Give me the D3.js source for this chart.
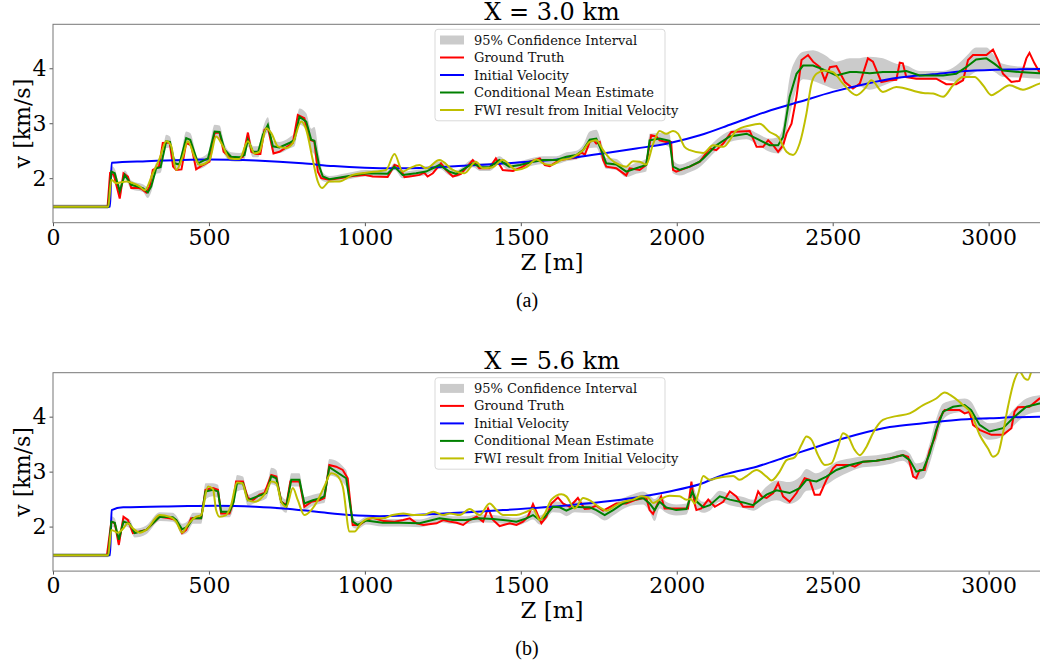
<!DOCTYPE html>
<html>
<head>
<meta charset="utf-8">
<script src="https://cdn.jsdelivr.net/npm/d3@7"></script>
<style>
  body { margin: 0; background: #fff; }
  svg { display: block; }
</style>
</head>
<body>
<script>
// depth ticks and velocity ticks
var zTicks = [0, 500, 1000, 1500, 2000, 2500, 3000];
var vTicks = [2, 3, 4];
var legendLabels = ['95% Confidence Interval', 'Ground Truth', 'Initial Velocity',
                    'Conditional Mean Estimate', 'FWI result from Initial Velocity'];

// ---- panel (a): X = 3.0 km, values are [z (m), v (km/s)] ----
var truthA = [[0,1.48],[175,1.48],[183,2.09],[195,2.06],[214,1.63],[226,2.09],[240,2.03],[251,1.82],[275,1.82],[285,1.8],[299,1.74],[310,1.85],[320,2.15],[340,2.21],[352,2.64],[374,2.65],[385,2.21],[395,2.15],[412,2.16],[427,2.64],[443,2.6],[459,2.16],[481,2.24],[502,2.3],[518,2.82],[534,2.83],[547,2.48],[566,2.39],[593,2.35],[609,2.39],[625,2.83],[636,2.48],[651,2.44],[665,2.44],[678,2.88],[689,2.92],[707,2.45],[726,2.48],[753,2.58],[769,2.64],[785,3.15],[806,3.09],[822,2.7],[838,2.67],[849,2.12],[860,2.0],[886,1.97],[918,2.0],[961,2.04],[999,2.06],[1025,2.03],[1073,2.02],[1095,2.24],[1111,2.21],[1127,2.02],[1153,2.04],[1175,2.06],[1190,2.1],[1201,2.03],[1218,2.09],[1244,2.27],[1260,2.15],[1282,2.03],[1308,2.08],[1346,2.33],[1367,2.18],[1399,2.18],[1420,2.36],[1442,2.15],[1475,2.13],[1507,2.21],[1529,2.3],[1561,2.36],[1577,2.24],[1593,2.22],[1625,2.33],[1657,2.36],[1678,2.37],[1694,2.48],[1705,2.42],[1721,2.66],[1732,2.7],[1742,2.63],[1753,2.66],[1764,2.33],[1774,2.21],[1806,2.18],[1838,2.05],[1849,2.18],[1881,2.15],[1902,2.24],[1918,2.78],[1934,2.76],[1945,2.69],[1966,2.66],[1982,2.66],[1988,2.15],[1998,2.12],[2042,2.21],[2074,2.3],[2106,2.54],[2127,2.51],[2149,2.63],[2175,2.84],[2234,2.86],[2256,2.57],[2277,2.57],[2293,2.69],[2309,2.6],[2325,2.48],[2341,2.6],[2352,2.81],[2368,2.99],[2384,3.48],[2400,4.15],[2421,4.24],[2437,4.12],[2459,4.02],[2475,3.78],[2491,4.02],[2512,4.04],[2539,3.75],[2565,3.63],[2587,3.72],[2613,4.18],[2629,4.12],[2656,3.75],[2683,3.78],[2704,3.79],[2715,4.1],[2725,4.09],[2736,3.84],[2768,3.81],[2832,3.81],[2864,3.71],[2896,3.71],[2918,3.78],[2934,4.15],[2950,4.24],[2993,4.24],[3014,4.34],[3030,4.15],[3046,3.9],[3073,3.75],[3099,3.77],[3121,4.18],[3131,4.28],[3147,4.09],[3163,3.93],[3200,3.95]];
var initA = [[0,1.48],[183,1.48],[188,2.28],[300,2.31],[500,2.34],[650,2.32],[800,2.27],[900,2.22],[1000,2.19],[1100,2.18],[1200,2.19],[1300,2.22],[1500,2.29],[1650,2.36],[1763,2.45],[1870,2.54],[1978,2.64],[2074,2.78],[2179,2.99],[2288,3.21],[2394,3.39],[2500,3.57],[2609,3.72],[2715,3.83],[2821,3.89],[2929,3.95],[3100,3.98],[3200,3.99]];
// conditional mean: [z, v, half-width of the 95% interval]
var meanA = [[0,1.48,.04],[177,1.48,.04],[187,2.12,.1],[198,2.09,.08],[214,1.76,.12],[230,2.06,.08],[251,1.88,.08],[288,1.82,.07],[304,1.74,.1],[315,1.85,.1],[331,2.18,.1],[345,2.2,.1],[363,2.67,.12],[375,2.66,.1],[390,2.27,.1],[405,2.25,.08],[427,2.73,.12],[440,2.7,.12],[465,2.27,.1],[497,2.36,.1],[518,2.85,.12],[534,2.84,.12],[550,2.52,.1],[571,2.39,.08],[598,2.38,.08],[614,2.42,.08],[625,2.7,.12],[641,2.48,.1],[658,2.48,.1],[673,2.79,.12],[689,2.97,.14],[705,2.58,.1],[726,2.56,.1],[758,2.64,.1],[774,2.7,.12],[790,3.12,.15],[812,3.03,.15],[828,2.7,.2],[838,2.68,.25],[854,2.21,.2],[865,2.03,.08],[886,1.98,.06],[940,2.03,.06],[1004,2.09,.06],[1073,2.08,.06],[1095,2.21,.06],[1121,2.06,.06],[1164,2.09,.06],[1196,2.12,.06],[1239,2.24,.07],[1271,2.12,.07],[1292,2.08,.06],[1346,2.27,.07],[1372,2.2,.07],[1399,2.2,.07],[1431,2.33,.07],[1463,2.21,.07],[1497,2.24,.07],[1539,2.3,.07],[1571,2.33,.07],[1614,2.33,.07],[1646,2.39,.08],[1678,2.42,.08],[1700,2.51,.1],[1721,2.7,.15],[1742,2.72,.16],[1758,2.51,.15],[1774,2.27,.1],[1806,2.25,.1],[1838,2.12,.1],[1870,2.18,.1],[1902,2.24,.12],[1913,2.69,.12],[1945,2.72,.1],[1977,2.68,.12],[1988,2.21,.12],[2009,2.15,.1],[2041,2.21,.1],[2073,2.3,.1],[2085,2.36,.1],[2127,2.6,.1],[2170,2.76,.1],[2224,2.81,.1],[2256,2.72,.1],[2298,2.6,.12],[2325,2.6,.15],[2341,2.75,.2],[2362,3.48,.35],[2384,3.9,.28],[2405,4.05,.25],[2437,4.05,.28],[2469,3.98,.28],[2512,3.87,.25],[2555,3.93,.25],[2576,3.93,.25],[2619,3.91,.3],[2661,3.93,.25],[2704,3.93,.15],[2736,3.95,.1],[2779,3.87,.08],[2854,3.87,.08],[2896,3.9,.15],[2928,4.02,.2],[2960,4.16,.22],[2993,4.18,.2],[3019,4.08,.15],[3046,3.96,.12],[3099,3.93,.1],[3163,3.91,.1],[3200,3.92,.1]];
var fwiA = [[0,1.48],[177,1.48],[187,1.97],[203,1.91],[235,1.94],[256,1.91],[278,1.85],[294,1.78],[320,2.09],[342,2.36],[363,2.67],[378,2.6],[395,2.15],[416,2.39],[432,2.67],[454,2.39],[470,2.24],[502,2.33],[523,2.76],[545,2.58],[566,2.36],[598,2.35],[625,2.67],[646,2.45],[662,2.48],[684,2.91],[700,2.82],[721,2.58],[748,2.55],[769,2.64],[796,3.03],[812,2.88],[833,2.33],[849,1.94],[863,1.82],[886,1.94],[918,1.94],[961,2.06],[1004,2.1],[1068,2.15],[1095,2.44],[1121,2.12],[1143,2.18],[1175,2.24],[1196,2.18],[1239,2.33],[1282,2.15],[1319,2.09],[1356,2.3],[1378,2.18],[1410,2.2],[1442,2.33],[1486,2.15],[1518,2.2],[1550,2.34],[1575,2.26],[1598,2.24],[1630,2.33],[1657,2.36],[1678,2.42],[1700,2.51],[1721,2.66],[1742,2.69],[1764,2.51],[1785,2.36],[1817,2.24],[1838,2.21],[1860,2.31],[1881,2.3],[1902,2.25],[1924,2.62],[1945,2.86],[1966,2.81],[1988,2.86],[2004,2.81],[2025,2.57],[2042,2.51],[2085,2.46],[2117,2.6],[2149,2.57],[2192,2.87],[2234,2.96],[2266,2.99],[2298,2.84],[2325,2.75],[2352,2.48],[2373,2.42],[2394,2.63],[2416,3.18],[2432,3.72],[2448,3.9],[2475,3.96],[2501,3.93],[2533,3.72],[2576,3.51],[2603,3.63],[2624,3.78],[2661,3.57],[2704,3.66],[2790,3.55],[2822,3.54],[2854,3.48],[2886,3.69],[2918,3.84],[2955,3.84],[2982,3.69],[3009,3.51],[3030,3.57],[3067,3.69],[3110,3.61],[3163,3.72],[3200,3.76]];

// ---- panel (b): X = 5.6 km ----
var truthB = [[0,1.48],[173,1.48],[187,2.09],[198,2.06],[211,1.67],[226,2.18],[240,2.12],[256,1.88],[278,1.91],[299,1.94],[342,2.18],[374,2.15],[395,2.12],[414,1.88],[427,1.94],[443,2.15],[475,2.15],[489,2.67],[513,2.7],[529,2.67],[539,2.24],[566,2.24],[577,2.42],[587,2.82],[609,2.82],[625,2.52],[641,2.48],[662,2.58],[678,2.61],[700,2.94],[716,2.91],[732,2.45],[748,2.39],[761,2.82],[790,2.82],[806,2.36],[828,2.45],[854,2.48],[870,2.52],[886,3.12],[908,3.09],[929,3.03],[945,2.88],[961,2.03],[983,2.03],[1004,2.12],[1025,2.16],[1060,2.1],[1095,2.09],[1123,2.12],[1144,2.15],[1166,2.06],[1187,2.03],[1230,2.06],[1251,2.12],[1272,2.09],[1294,2.07],[1315,2.03],[1336,2.12],[1358,2.18],[1379,2.09],[1395,2.33],[1411,2.12],[1432,2.01],[1465,2.06],[1486,2.03],[1507,2.09],[1523,2.18],[1539,2.41],[1550,2.27],[1566,2.06],[1582,2.18],[1598,2.42],[1619,2.53],[1635,2.42],[1657,2.36],[1683,2.52],[1705,2.32],[1721,2.33],[1742,2.38],[1764,2.29],[1806,2.42],[1838,2.42],[1870,2.49],[1902,2.53],[1913,2.3],[1924,2.23],[1934,2.36],[1950,2.55],[1961,2.33],[1977,2.33],[2036,2.33],[2047,2.82],[2057,2.42],[2063,2.3],[2079,2.33],[2101,2.49],[2122,2.36],[2149,2.45],[2170,2.64],[2191,2.55],[2213,2.36],[2245,2.36],[2261,2.64],[2272,2.55],[2288,2.52],[2309,2.61],[2325,2.79],[2341,2.55],[2362,2.45],[2384,2.61],[2410,2.88],[2426,2.85],[2442,2.58],[2459,2.58],[2480,2.85],[2501,3.06],[2512,3.12],[2555,3.12],[2571,3.09],[2597,3.18],[2640,3.2],[2683,3.24],[2725,3.3],[2742,3.27],[2758,2.91],[2768,2.88],[2779,3.03],[2795,3.03],[2811,3.39],[2827,3.61],[2843,3.97],[2859,4.12],[2907,4.12],[2923,4.06],[2939,4.09],[2950,3.85],[2971,3.76],[3009,3.67],[3046,3.67],[3073,3.79],[3083,4.09],[3094,4.17],[3131,4.18],[3163,4.33],[3200,4.36]];
var initB = [[0,1.48],[183,1.48],[188,2.3],[225,2.35],[400,2.37],[524,2.38],[650,2.36],[738,2.33],[845,2.27],[952,2.21],[1048,2.19],[1230,2.23],[1443,2.3],[1657,2.39],[1764,2.45],[1870,2.53],[1977,2.64],[2073,2.77],[2149,2.94],[2256,3.09],[2362,3.29],[2469,3.49],[2576,3.67],[2683,3.81],[2790,3.88],[2896,3.94],[3003,3.97],[3163,4.0],[3200,4.0]];
var meanB = [[0,1.48,.04],[177,1.48,.04],[187,2.09,.1],[198,2.07,.08],[211,1.76,.12],[226,2.09,.08],[246,2.05,.08],[262,1.88,.08],[299,1.94,.08],[342,2.18,.08],[384,2.17,.08],[395,2.12,.08],[414,1.95,.1],[432,2.0,.1],[449,2.15,.1],[475,2.15,.1],[489,2.64,.15],[513,2.67,.12],[529,2.64,.12],[539,2.27,.1],[566,2.27,.1],[579,2.45,.1],[590,2.79,.15],[609,2.79,.12],[625,2.48,.1],[651,2.54,.1],[684,2.61,.1],[700,2.92,.15],[716,2.88,.15],[732,2.45,.12],[748,2.37,.12],[764,2.85,.12],[790,2.85,.12],[806,2.42,.12],[833,2.48,.1],[860,2.52,.1],[870,2.55,.12],[886,3.08,.15],[940,2.88,.15],[961,2.09,.1],[977,2.03,.07],[1004,2.11,.07],[1057,2.07,.07],[1111,2.07,.07],[1175,2.06,.07],[1239,2.15,.07],[1282,2.12,.07],[1324,2.12,.07],[1367,2.15,.07],[1411,2.14,.07],[1443,2.12,.07],[1486,2.09,.07],[1518,2.15,.07],[1539,2.21,.08],[1561,2.12,.08],[1577,2.18,.08],[1603,2.36,.1],[1625,2.35,.1],[1646,2.29,.1],[1673,2.36,.1],[1700,2.35,.1],[1721,2.35,.1],[1742,2.3,.1],[1769,2.21,.1],[1796,2.3,.1],[1828,2.42,.1],[1860,2.49,.1],[1892,2.52,.12],[1913,2.42,.15],[1929,2.3,.2],[1945,2.45,.12],[1966,2.35,.1],[1998,2.3,.1],[2031,2.32,.1],[2050,2.64,.12],[2063,2.46,.12],[2085,2.35,.1],[2106,2.39,.1],[2138,2.55,.1],[2170,2.49,.1],[2213,2.44,.1],[2245,2.39,.1],[2288,2.58,.15],[2320,2.66,.18],[2362,2.61,.2],[2394,2.7,.2],[2416,2.85,.2],[2448,2.82,.15],[2480,2.91,.15],[2512,3.03,.15],[2555,3.12,.12],[2597,3.18,.1],[2640,3.2,.1],[2683,3.24,.1],[2725,3.3,.1],[2747,3.21,.12],[2768,3.0,.15],[2790,3.03,.15],[2811,3.33,.18],[2832,3.76,.2],[2854,4.09,.15],[2886,4.18,.12],[2923,4.21,.12],[2944,4.12,.15],[2971,3.85,.15],[3003,3.73,.15],[3046,3.79,.15],[3083,4.0,.15],[3121,4.18,.15],[3163,4.24,.15],[3200,4.26,.15]];
var fwiB = [[0,1.48],[177,1.48],[187,1.94],[208,1.89],[226,1.97],[240,2.06],[256,1.97],[278,1.89],[299,1.94],[342,2.21],[374,2.18],[395,2.09],[414,1.89],[432,2.03],[459,2.18],[475,2.21],[497,2.73],[513,2.68],[523,2.3],[534,2.18],[555,2.21],[571,2.39],[590,2.8],[607,2.79],[625,2.48],[646,2.45],[673,2.55],[684,2.64],[700,2.82],[716,2.79],[732,2.45],[748,2.36],[769,2.7],[785,2.48],[806,2.21],[828,2.3],[849,2.48],[870,2.73],[892,2.97],[908,2.94],[929,2.73],[951,1.91],[967,1.91],[988,2.06],[1016,2.15],[1057,2.15],[1089,2.21],[1123,2.24],[1155,2.21],[1187,2.21],[1219,2.27],[1251,2.21],[1272,2.24],[1304,2.21],[1336,2.32],[1368,2.21],[1400,2.42],[1422,2.3],[1443,2.21],[1486,2.21],[1518,2.27],[1539,2.32],[1561,2.12],[1577,2.24],[1598,2.49],[1630,2.59],[1646,2.55],[1673,2.33],[1700,2.52],[1726,2.46],[1753,2.35],[1774,2.29],[1806,2.39],[1828,2.45],[1860,2.49],[1886,2.55],[1908,2.53],[1924,2.43],[1945,2.49],[1977,2.56],[2009,2.55],[2031,2.49],[2045,2.5],[2058,2.42],[2069,2.6],[2085,2.92],[2106,2.85],[2127,2.88],[2159,2.91],[2181,2.92],[2202,2.85],[2224,2.92],[2256,3.03],[2288,2.91],[2304,2.84],[2330,3.0],[2352,3.21],[2378,3.26],[2400,3.49],[2416,3.64],[2432,3.58],[2453,3.3],[2475,3.12],[2496,3.15],[2517,3.45],[2533,3.7],[2549,3.64],[2571,3.39],[2587,3.3],[2608,3.45],[2629,3.7],[2661,3.94],[2704,4.01],[2747,4.06],[2790,4.21],[2832,4.33],[2859,4.44],[2886,4.36],[2918,4.21],[2944,4.06],[2971,3.67],[2998,3.42],[3014,3.27],[3030,3.33],[3046,3.7],[3062,4.18],[3083,4.67],[3099,4.82],[3115,4.7],[3126,4.67],[3137,4.82],[3150,5.0]];

var width = 1040, height = 663;
var left = 53, right = 1051, plotH = 198.4;

var svg = d3.select('body').append('svg').attr('width', width).attr('height', height);
svg.append('rect').attr('width', width).attr('height', height).attr('fill', '#fff');

var x = d3.scaleLinear().domain([0, 3200]).range([left, right]);

function drawPanel(top, title, tag, truth, init, mean, fwi, id) {
  var y = d3.scaleLinear().domain([1.19, 4.8]).range([top + plotH, top]);
  var g = svg.append('g');

  g.append('clipPath').attr('id', id)
    .append('rect').attr('x', left).attr('y', top).attr('width', right - left).attr('height', plotH);
  var plot = g.append('g').attr('clip-path', 'url(#' + id + ')');

  var band = d3.area()
    .x(function(d) { return x(d[0]); })
    .y0(function(d) { return y(d[1] - d[2]); })
    .y1(function(d) { return y(d[1] + d[2]); })
    .curve(d3.curveMonotoneX);
  var line = d3.line().x(function(d) { return x(d[0]); }).y(function(d) { return y(d[1]); });
  var smooth = d3.line().x(function(d) { return x(d[0]); }).y(function(d) { return y(d[1]); })
    .curve(d3.curveMonotoneX);

  plot.append('path').datum(mean).attr('d', band).attr('fill', '#cbcbcb');
  plot.append('path').datum(truth).attr('d', line).attr('fill', 'none')
    .attr('stroke', '#ff0000').attr('stroke-width', 2);
  plot.append('path').datum(init).attr('d', smooth).attr('fill', 'none')
    .attr('stroke', '#0000ff').attr('stroke-width', 2);
  plot.append('path').datum(mean).attr('d', line).attr('fill', 'none')
    .attr('stroke', '#008000').attr('stroke-width', 2);
  plot.append('path').datum(fwi).attr('d', smooth).attr('fill', 'none')
    .attr('stroke', '#bfbf00').attr('stroke-width', 2);

  // axes
  var xAxis = g.append('g').attr('transform', 'translate(0,' + (top + plotH) + ')')
    .call(d3.axisBottom(x).tickValues(zTicks).tickSize(3.5).tickPadding(3).tickFormat(d3.format('d')));
  var yAxis = g.append('g').attr('transform', 'translate(' + left + ',0)')
    .call(d3.axisLeft(y).tickValues(vTicks).tickSize(3.5).tickPadding(3).tickFormat(d3.format('d')));
  [xAxis, yAxis].forEach(function(a) {
    a.selectAll('text').attr('font-family', 'DejaVu Serif').attr('font-size', 22).attr('fill', '#000');
    a.selectAll('line').attr('stroke', '#555');
    a.select('.domain').remove();
  });
  // frame
  g.append('rect').attr('x', left).attr('y', top).attr('width', right - left).attr('height', plotH)
    .attr('fill', 'none').attr('stroke', '#777').attr('stroke-width', 1);

  g.append('text').attr('x', (left + right) / 2).attr('y', top - 4)
    .attr('text-anchor', 'middle').attr('font-family', 'DejaVu Serif').attr('font-size', 24)
    .text(title);
  g.append('text').attr('transform', 'translate(30,' + (top + plotH / 2) + ') rotate(-90)')
    .attr('text-anchor', 'middle').attr('font-family', 'DejaVu Serif').attr('font-size', 22)
    .text('v [km/s]');
  g.append('text').attr('x', (left + right) / 2).attr('y', top + plotH + 47)
    .attr('text-anchor', 'middle').attr('font-family', 'DejaVu Serif').attr('font-size', 23)
    .text('Z [m]');
  g.append('text').attr('x', 527).attr('y', top + plotH + 84)
    .attr('text-anchor', 'middle').attr('font-family', 'Liberation Serif').attr('font-size', 20)
    .text(tag);

  // legend
  var lg = g.append('g').attr('transform', 'translate(435,' + (top + 5) + ')');
  lg.append('rect').attr('width', 230).attr('height', 91.5).attr('rx', 3)
    .attr('fill', '#fff').attr('fill-opacity', 0.8).attr('stroke', '#d9d9d9');
  var colors = [null, '#ff0000', '#0000ff', '#008000', '#bfbf00'];
  legendLabels.forEach(function(label, i) {
    var cy = 10.7 + i * 17.5;
    if (i === 0) {
      lg.append('rect').attr('x', 5).attr('y', cy - 4.5).attr('width', 24).attr('height', 9).attr('fill', '#cbcbcb');
    } else {
      lg.append('line').attr('x1', 5).attr('x2', 29).attr('y1', cy).attr('y2', cy)
        .attr('stroke', colors[i]).attr('stroke-width', 2);
    }
    lg.append('text').attr('x', 39).attr('y', cy).attr('dy', '0.35em')
      .attr('font-family', 'DejaVu Serif').attr('font-size', 13).attr('fill', '#111').text(label);
  });
}

drawPanel(24.3, 'X = 3.0 km', '(a)', truthA, initA, meanA, fwiA, 'clipA');
drawPanel(372.7, 'X = 5.6 km', '(b)', truthB, initB, meanB, fwiB, 'clipB');
</script>
</body>
</html>
